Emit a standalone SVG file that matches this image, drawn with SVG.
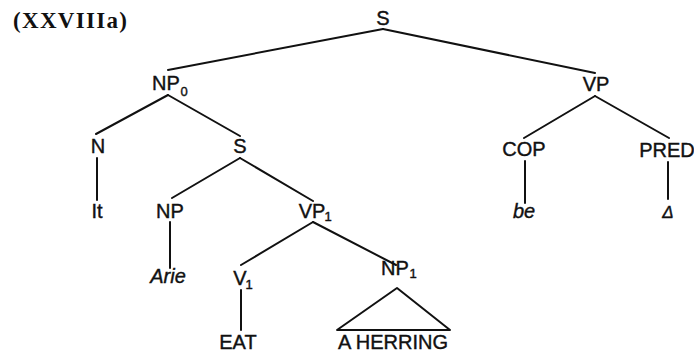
<svg xmlns="http://www.w3.org/2000/svg" width="694" height="354" viewBox="0 0 694 354">
<style>
.lbl{font-family:"Liberation Sans",Arial,sans-serif;font-size:20px;fill:#111;stroke:#111;stroke-width:0.4;text-anchor:middle}
.it{font-style:italic}
.sub{font-size:13px}
.title{font-family:"Liberation Serif","Times New Roman",serif;font-size:23px;font-weight:bold;fill:#111}
.e{stroke:#111;stroke-width:2;fill:none;stroke-linecap:round}
</style>
<rect width="694" height="354" fill="#fff"/>
<text class="title" x="13" y="28" textLength="114" lengthAdjust="spacing">(XXVIIIa)</text>
<g id="connectors">
<line class="e" x1="383" y1="29" x2="168" y2="70"/>
<line class="e" x1="383" y1="29" x2="595" y2="73"/>
<line class="e" x1="168" y1="95" x2="96" y2="134"/>
<line class="e" x1="168" y1="95" x2="240" y2="136"/>
<line class="e" x1="97" y1="158" x2="97" y2="200"/>
<line class="e" x1="240" y1="158" x2="172" y2="198"/>
<line class="e" x1="240" y1="158" x2="313" y2="201"/>
<line class="e" x1="170" y1="222" x2="170" y2="268"/>
<line class="e" x1="313" y1="222" x2="241" y2="265"/>
<line class="e" x1="313" y1="222" x2="396" y2="265"/>
<line class="e" x1="241" y1="290" x2="241" y2="330"/>
<line class="e" x1="595" y1="96" x2="524" y2="138"/>
<line class="e" x1="595" y1="96" x2="669" y2="138"/>
<line class="e" x1="525" y1="161" x2="525" y2="203"/>
<line class="e" x1="668" y1="162" x2="668" y2="199"/>
<polygon class="e" points="397,288 337,330 450,330" stroke-linejoin="round"/>
</g>
<g id="n-S"><text class="lbl" x="383" y="25">S</text></g>
<g id="n-NP0"><text class="lbl" x="166" y="90">NP</text><text class="lbl sub" x="184" y="96">0</text></g>
<g id="n-VP"><text class="lbl" x="596" y="91">VP</text></g>
<g id="n-N"><text class="lbl" x="98" y="153">N</text></g>
<g id="n-S2"><text class="lbl" x="240" y="153">S</text></g>
<g id="n-COP"><text class="lbl" x="524" y="156">COP</text></g>
<g id="n-PRED"><text class="lbl" x="667" y="157">PRED</text></g>
<g id="n-It"><text class="lbl" x="97" y="218">It</text></g>
<g id="n-NP"><text class="lbl" x="170" y="218">NP</text></g>
<g id="n-VP1"><text class="lbl" x="312" y="218">VP</text><text class="lbl sub" x="328" y="221">1</text></g>
<g id="n-be"><text class="lbl it" x="524" y="218">be</text></g>
<g id="n-delta"><text class="lbl it" x="668" y="218" style="font-size:17px">Δ</text></g>
<g id="n-Arie"><text class="lbl it" x="168" y="283">Arie</text></g>
<g id="n-V1"><text class="lbl" x="240" y="285">V</text><text class="lbl sub" x="249" y="289">1</text></g>
<g id="n-NP1"><text class="lbl" x="395" y="275">NP</text><text class="lbl sub" x="413" y="278">1</text></g>
<g id="n-EAT"><text class="lbl" x="238" y="349">EAT</text></g>
<g id="n-AHERRING"><text class="lbl" x="393" y="349" textLength="110" lengthAdjust="spacing">A HERRING</text></g>
</svg>
